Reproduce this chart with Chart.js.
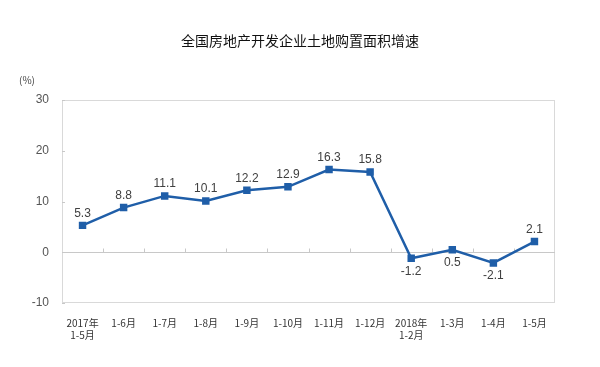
<!DOCTYPE html>
<html>
<head>
<meta charset="utf-8">
<script src="https://cdn.jsdelivr.net/npm/chart.js@4/dist/chart.umd.min.js"></script>
<style>
  html, body { margin: 0; padding: 0; background: #fff; }
  #wrap { width: 600px; height: 367px; position: relative; }
</style>
</head>
<body>
<div id="wrap"><canvas id="landChart"></canvas></div>
<script>
const categories = [
  ['2017年', '1-5月'], '1-6月', '1-7月', '1-8月', '1-9月', '1-10月',
  '1-11月', '1-12月', ['2018年', '1-2月'], '1-3月', '1-4月', '1-5月'
];
const growth = [5.3, 8.8, 11.1, 10.1, 12.2, 12.9, 16.3, 15.8, -1.2, 0.5, -2.1, 2.1];
const labelBelow = [false, false, false, false, false, false, false, false, true, true, true, false];
const yTicks = [30, 20, 10, 0, -10];

const blue = '#1f5ea8';
const cjk = '"Noto Sans CJK SC", "Liberation Sans", sans-serif';

// title, unit, plot frame, zero-line ticks and point labels
const decor = {
  id: 'decor',
  beforeDatasetsDraw(chart) {
    const { ctx, chartArea: a, scales } = chart;
    ctx.save();
    ctx.strokeStyle = '#d9d9d9';
    ctx.lineWidth = 1;
    ctx.strokeRect(a.left + 0.5, a.top + 0.5, a.width - 1, a.height - 1);
    const y0 = Math.round(scales.y.getPixelForValue(0)) + 0.5;
    ctx.strokeStyle = '#c8c8c8';
    ctx.beginPath();
    ctx.moveTo(a.left, y0);
    ctx.lineTo(a.right, y0);
    const step = a.width / categories.length;
    for (let i = 1; i < categories.length; i++) {
      const x = Math.round(a.left + step * i) + 0.5;
      ctx.moveTo(x, y0);
      ctx.lineTo(x, y0 - 4);
    }
    yTicks.forEach(v => {
      const y = Math.round(scales.y.getPixelForValue(v)) + 0.5;
      ctx.moveTo(a.left, y);
      ctx.lineTo(a.left + 3, y);
    });
    ctx.stroke();
    ctx.restore();
  },
  afterDraw(chart) {
    const { ctx } = chart;
    ctx.save();
    ctx.fillStyle = '#111';
    ctx.font = '14px ' + cjk;
    ctx.textAlign = 'center';
    ctx.textBaseline = 'middle';
    ctx.fillText('全国房地产开发企业土地购置面积增速', 300, 41);
    ctx.fillStyle = '#444';
    ctx.font = '10px ' + cjk;
    ctx.fillText('(%)', 27, 80);
    const meta = chart.getDatasetMeta(0);
    ctx.font = '12px "Liberation Sans", Arial, sans-serif';
    ctx.fillStyle = '#404040';
    meta.data.forEach((pt, i) => {
      const below = labelBelow[i];
      ctx.textBaseline = below ? 'top' : 'bottom';
      ctx.fillText(growth[i].toFixed(1), pt.x, below ? pt.y + 7 : pt.y - 6);
    });
    ctx.restore();
  }
};

new Chart(document.getElementById('landChart'), {
  type: 'line',
  data: {
    labels: categories,
    datasets: [{
      data: growth,
      borderColor: blue,
      backgroundColor: blue,
      borderWidth: 2.5,
      pointStyle: 'rect',
      pointRadius: 3.5,
      pointHoverRadius: 3.5,
      tension: 0
    }]
  },
  options: {
    responsive: true,
    maintainAspectRatio: false,
    animation: false,
    events: [],
    layout: { padding: { top: 100, right: 45, left: 0, bottom: 10 } },
    plugins: { legend: { display: false }, tooltip: { enabled: false } },
    scales: {
      x: {
        offset: true,
        grid: { display: false },
        border: { display: false },
        ticks: {
          color: '#333',
          font: { family: cjk, size: 10 },
          maxRotation: 0,
          autoSkip: false,
          padding: 6
        },
        afterFit(s) { s.height = 54; }
      },
      y: {
        min: -10,
        max: 30,
        afterBuildTicks(s) { s.ticks = yTicks.map(v => ({ value: v })); },
        grid: { display: false },
        border: { display: false },
        ticks: {
          color: '#555',
          font: { family: '"Liberation Sans", Arial, sans-serif', size: 12 },
          padding: 5
        },
        afterFit(s) { s.width = 62; }
      }
    }
  },
  plugins: [decor]
});
</script>
</body>
</html>
